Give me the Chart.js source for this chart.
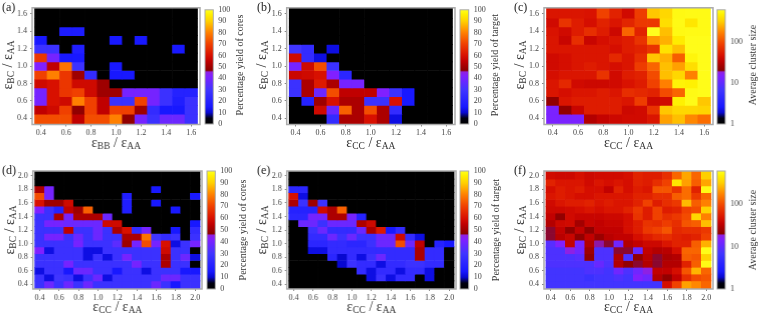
<!doctype html>
<html>
<head>
<meta charset="utf-8">
<style>
html,body{margin:0;background:#fff;overflow:hidden}
canvas{position:absolute}
</style>
<script src="https://cdn.jsdelivr.net/npm/chart.js@4"></script>
</head>
<body>
<script>
const smallGrid=[0.4,0.5,0.6,0.7,0.8,0.9,1.0,1.1,1.2,1.3,1.4,1.5,1.6]
const bigGrid=[0.4,0.5,0.6,0.7,0.8,0.9,1.0,1.1,1.2,1.3,1.4,1.5,1.6,1.7,1.8,1.9,2.0]
const smallTicks=[0.4,0.6,0.8,1.0,1.2,1.4,1.6]
const bigTicks=[0.4,0.6,0.8,1.0,1.2,1.4,1.6,1.8,2.0]
const yieldTicks=[0,10,20,30,40,50,60,70,80,90,100]
const sizeTicks=[1,10,100]

// every table runs top row first, like the picture
const coresA=[
[0,0,0,0,0,0,0,0,0,0,0,0,0],
[0,0,0,0,0,0,0,0,0,0,0,0,0],
[0,0,17,17,0,0,0,0,0,0,0,0,0],
[15,0,0,0,0,0,15,0,15,0,0,0,0],
[28,28,0,18,0,0,0,0,0,0,0,15,0],
[68,40,15,15,0,0,0,0,0,0,0,0,0],
[42,55,78,28,0,0,15,0,0,0,0,0,0],
[70,80,68,50,25,0,15,15,0,0,0,0,0],
[58,60,68,58,58,50,0,0,0,0,0,0,0],
[40,60,68,70,58,50,50,40,40,40,28,20,20],
[40,60,58,80,70,55,28,28,70,40,28,18,28],
[55,58,70,48,70,55,70,70,50,25,15,15,28],
[72,72,72,55,72,72,80,48,40,28,38,38,28]]
const targetB=[
[0,0,0,0,0,0,0,0,0,0,0,0,0],
[0,0,0,0,0,0,0,0,0,0,0,0,0],
[0,0,0,0,0,0,0,0,0,0,0,0,0],
[0,0,0,0,0,0,0,0,0,0,0,0,0],
[30,25,0,12,0,0,0,0,0,0,0,0,0],
[58,25,12,0,0,0,0,0,0,0,0,0,0],
[40,58,72,28,0,0,0,0,0,0,0,0,0],
[57,58,60,42,22,0,0,0,0,0,0,0,0],
[28,52,62,52,40,40,0,0,0,0,0,0,0],
[28,52,38,72,55,55,55,42,28,15,0,0,0],
[0,20,50,60,52,52,28,28,60,15,0,0,0],
[0,0,58,38,75,52,72,52,25,0,0,0,0],
[0,0,0,25,52,52,60,52,12,0,0,0,0]]
const sizeC=[
[50,50,50,48,90,60,42,85,300,350,550,560,560],
[42,75,55,45,60,50,62,80,80,380,560,420,560],
[48,42,55,70,55,40,130,60,600,280,550,560,560],
[50,38,70,38,45,50,55,75,200,250,450,580,580],
[50,50,50,50,50,45,55,60,75,400,280,580,580],
[42,45,50,50,50,65,50,70,300,250,120,520,580],
[42,45,50,55,50,45,50,85,130,280,220,380,580],
[45,50,50,50,75,42,55,60,100,280,350,170,580],
[50,65,42,40,40,42,48,55,90,170,500,480,580],
[50,45,50,50,55,50,70,65,60,100,130,560,580],
[22,50,55,55,55,55,50,85,40,42,480,570,300],
[14,22,38,55,55,55,40,42,75,300,350,350,340],
[14,14,14,30,36,40,42,42,50,220,280,180,140]]
const coresD=[
[0,0,0,0,0,0,0,0,0,0,0,0,0,0,0,0,0],
[0,0,0,0,0,0,0,0,0,0,0,0,0,0,0,0,0],
[52,40,0,0,0,0,0,0,0,0,0,0,15,0,0,0,0],
[72,40,0,0,0,0,0,0,0,18,0,0,0,0,0,0,15],
[60,50,50,58,0,0,0,0,0,18,0,0,15,0,0,0,0],
[42,28,20,55,50,75,0,0,0,18,0,0,0,0,15,0,0],
[28,28,52,40,52,52,52,38,0,0,0,0,0,0,0,0,0],
[28,40,40,38,38,38,38,58,58,0,0,0,0,0,0,0,15],
[28,28,28,55,28,28,38,28,52,60,25,40,0,0,15,0,25],
[28,40,40,28,38,28,38,28,28,52,52,78,30,25,28,0,28],
[28,28,28,28,40,28,28,28,35,50,40,72,40,60,12,28,40],
[42,12,28,28,28,12,12,28,28,28,28,28,28,58,28,28,0],
[28,28,28,28,28,12,28,12,28,40,28,28,28,52,28,38,12],
[28,28,28,40,28,28,28,28,28,28,40,28,28,52,28,28,0],
[12,28,28,15,38,38,28,28,15,28,28,12,28,28,28,15,15],
[28,12,30,28,12,28,38,12,28,28,28,28,28,38,38,28,28],
[28,38,28,38,28,38,28,28,28,28,28,28,38,28,15,28,28]]
const targetE=[
[0,0,0,0,0,0,0,0,0,0,0,0,0,0,0,0,0],
[0,0,0,0,0,0,0,0,0,0,0,0,0,0,0,0,0],
[22,22,0,0,0,0,0,0,0,0,0,0,0,0,0,0,0],
[60,12,0,0,0,0,0,0,0,0,0,0,0,0,0,0,0],
[52,28,50,28,0,0,0,0,0,0,0,0,0,0,0,0,0],
[20,20,20,58,52,75,0,0,0,0,0,0,0,0,0,0,0],
[22,22,40,40,52,52,40,20,0,0,0,0,0,0,0,0,0],
[0,38,38,28,38,38,38,52,58,0,0,0,0,0,0,0,0],
[0,0,28,38,25,25,25,38,52,62,15,25,0,0,0,0,0],
[0,0,25,25,38,28,38,28,28,38,38,58,25,12,0,0,0],
[0,0,22,22,25,25,22,22,28,38,38,72,38,55,0,20,15],
[0,0,12,12,25,25,25,25,25,25,25,25,25,52,25,25,0],
[0,0,0,0,22,10,25,12,28,38,25,25,25,52,25,25,0],
[0,0,0,0,0,10,28,25,25,12,25,25,28,28,25,25,0],
[0,0,0,0,0,0,0,25,12,25,25,12,25,25,12,0,0],
[0,0,0,0,0,0,0,0,12,28,12,25,25,0,12,0,0],
[0,0,0,0,0,0,0,0,0,0,0,0,0,0,0,0,0]]
const sizeF=[
[42,40,40,45,40,42,42,42,45,60,55,55,70,130,230,130,320],
[60,50,50,50,42,50,45,50,45,60,55,70,90,420,220,120,230],
[45,55,50,55,45,45,35,60,45,55,50,110,110,75,140,60,560],
[50,55,50,45,45,50,50,50,50,60,60,70,70,120,140,80,130],
[42,50,55,55,60,50,55,50,50,60,90,55,70,80,270,120,170],
[40,40,42,45,50,45,50,50,60,80,55,90,55,60,90,100,330],
[35,22,42,38,38,38,40,40,45,75,55,90,70,80,100,350,170],
[30,40,42,26,38,35,38,38,45,55,75,70,85,70,110,120,280],
[20,35,22,35,22,35,35,35,45,55,80,90,110,65,70,70,80],
[20,32,38,22,35,24,32,35,35,45,55,65,70,60,55,60,90],
[9,15,36,13,30,19,20,12,30,35,40,40,50,60,60,120,250],
[8,8,18,12,25,8,8,20,20,11,35,30,32,45,130,130,580],
[8,8,8,9,22,8,8,30,8,22,32,20,28,30,120,110,330],
[8,8,8,8,8,11,8,30,22,20,30,20,30,30,60,120,560],
[7,7,7,7,8,8,7,12,8,12,18,35,35,45,110,260,130],
[7,7,7,7,6,7,7,8,7,15,12,30,22,35,70,100,110],
[7,7,7,7,7,7,7,7,7,7,7,7,45,90,220,180,130]]

const paletteStops=[
[0,"#000000"],[0.05,"#000010"],[0.1,"#0808d0"],[0.15,"#1818ff"],[0.3,"#4035ff"],
[0.42,"#8020ff"],[0.455,"#9020e0"],[0.47,"#8a0000"],[0.55,"#c00000"],[0.6,"#d81000"],
[0.7,"#f04000"],[0.8,"#ff8000"],[0.9,"#ffd000"],[0.96,"#fff000"],[1,"#ffff20"]]
const sizeTop=612

Chart.defaults.animation=false
Chart.defaults.font.family="Liberation Serif"
Chart.defaults.color="#444"
Chart.defaults.plugins.legend.display=false
Chart.defaults.plugins.tooltip.enabled=false

function hexRgb(h){
    return [1,3,5].map(i=>parseInt(h.substr(i,2),16))
}
function paletteColor(f){
    f=Math.max(0,Math.min(1,f))
    for(let i=1;i<paletteStops.length;i++){
        if(f<=paletteStops[i][0]){
            const a=paletteStops[i-1],b=paletteStops[i]
            const t=(f-a[0])/(b[0]-a[0])
            const ca=hexRgb(a[1]),cb=hexRgb(b[1])
            return "rgb("+ca.map((c,k)=>Math.round(c+(cb[k]-c)*t)).join(",")+")"
        }
    }
    return paletteStops[paletteStops.length-1][1]
}
function cellColor(v,isSize){
    if(isSize) return paletteColor(Math.log10(v)/Math.log10(sizeTop))
    return paletteColor(v/100)
}

function addCanvas(left,top,w,h){
    const c=document.createElement("canvas")
    c.width=w
    c.height=h
    c.style.left=left+"px"
    c.style.top=top+"px"
    c.style.width=w+"px"
    c.style.height=h+"px"
    document.body.appendChild(c)
    return c
}

// epsilon ratio with real subscripts, centred on the current origin
function drawRatio(ctx,subA,subB){
    const big="14px 'Liberation Serif'",small="9.5px 'Liberation Serif'"
    const parts=[["\u03b5",big,0],[subA,small,3],[" / \u03b5",big,0],[subB,small,3]]
    let w=0
    parts.forEach(p=>{ctx.font=p[1];w+=ctx.measureText(p[0]).width})
    let x=-w/2
    ctx.fillStyle="#333"
    ctx.textAlign="left"
    ctx.textBaseline="middle"
    parts.forEach(p=>{
        ctx.font=p[1]
        ctx.fillText(p[0],x,p[2])
        x+=ctx.measureText(p[0]).width
    })
}

function heatChart(p){
    const canvas=addCanvas(p.canvasX,p.canvasY,p.plot[1]+3-p.canvasX,157)
    const grid=p.grid
    const yMin=0.33,yMax=grid[grid.length-1]+0.07
    const rows=p.values.map((row,r)=>{
        const yc=grid[grid.length-1-r]
        const lo=r==p.values.length-1?yMin:yc-0.05
        const hi=r==0?yMax:yc+0.05
        return {
            data:row.map((v,i)=>({x:grid[i],y:[lo,hi]})),
            backgroundColor:row.map(v=>v==0?"#000":cellColor(v,p.isSize)),
            grouped:false,
            barPercentage:1,
            categoryPercentage:1,
            borderWidth:0,
        }
    })
    new Chart(canvas,{
        type:"bar",
        data:{datasets:rows},
        options:{
            responsive:false,
            layout:{padding:{left:0,right:3,top:p.plot[2]-p.canvasY,bottom:0}},
            scales:{
                x:{
                    type:"linear",
                    offset:false,
                    min:yMin,
                    max:yMax,
                    grid:{offset:false,drawOnChartArea:false,tickLength:2,tickColor:"#888"},
                    border:{display:false},
                    afterBuildTicks(s){s.ticks=p.ticks.map(v=>({value:v}))},
                    afterFit(s){s.height=157-(p.plot[3]-p.canvasY)},
                    ticks:{
                        autoSkip:false,maxRotation:0,padding:2,font:{size:8},
                        callback:v=>v.toFixed(1),
                    },
                },
                y:{
                    min:yMin,
                    max:yMax,
                    grid:{drawOnChartArea:false,tickLength:2,tickColor:"#888"},
                    border:{display:false},
                    afterBuildTicks(s){s.ticks=p.ticks.map(v=>({value:v}))},
                    afterFit(s){s.width=p.plot[0]-p.canvasX},
                    ticks:{
                        autoSkip:false,padding:3,font:{size:8},
                        callback:v=>v.toFixed(1),
                    },
                },
            },
        },
        plugins:[{
            id:"panelText",
            afterDraw(chart){
                const ctx=chart.ctx,a=chart.chartArea
                ctx.save()
                ctx.strokeStyle="#aaa"
                ctx.lineWidth=1.5
                ctx.strokeRect(a.left,a.top,a.right-a.left,a.bottom-a.top)
                ctx.fillStyle="#222"
                ctx.font="12px 'Liberation Serif'"
                ctx.textAlign="left"
                ctx.textBaseline="middle"
                ctx.fillText(p.tag,p.tagX-p.canvasX,p.tagY-p.canvasY)
                ctx.save()
                ctx.translate((a.left+a.right)/2,p.xTitleY-p.canvasY)
                drawRatio(ctx,p.xSub,"AA")
                ctx.restore()
                ctx.translate(p.yTitleX-p.canvasX,(p.plot[2]+p.plot[3])/2-p.canvasY)
                ctx.rotate(-Math.PI/2)
                drawRatio(ctx,"BC","AA")
                ctx.restore()
            },
        }],
    })
}

function barChart(p){
    const left=p.bar[0]-2,width=p.titleX+9-left
    const canvas=addCanvas(left,p.canvasY,width,157)
    const rightGap=width-(p.bar[1]-left)
    new Chart(canvas,{
        type:"bar",
        data:{
            labels:[""],
            datasets:[{
                data:[p.isSize?[1,sizeTop]:[0,100]],
                barPercentage:1,
                categoryPercentage:1,
                borderWidth:0,
                backgroundColor(c){
                    const a=c.chart.chartArea
                    if(!a) return "#000"
                    const g=c.chart.ctx.createLinearGradient(0,a.bottom,0,a.top)
                    paletteStops.forEach(s=>g.addColorStop(s[0],s[1]))
                    return g
                },
            }],
        },
        options:{
            responsive:false,
            layout:{padding:{left:2,right:0,top:p.barY[0]-p.canvasY,bottom:157-(p.barY[1]-p.canvasY)}},
            scales:{
                x:{display:false},
                y:{
                    type:p.isSize?"logarithmic":"linear",
                    position:"right",
                    min:p.isSize?1:0,
                    max:p.isSize?sizeTop:100,
                    grid:{display:false,drawTicks:false},
                    border:{display:false},
                    afterBuildTicks(s){s.ticks=(p.isSize?sizeTicks:yieldTicks).map(v=>({value:v}))},
                    afterFit(s){s.width=rightGap},
                    ticks:{
                        autoSkip:false,padding:5,font:{size:8},
                        callback:v=>String(v),
                    },
                },
            },
        },
        plugins:[{
            id:"barText",
            afterDraw(chart){
                const ctx=chart.ctx,a=chart.chartArea
                ctx.save()
                ctx.strokeStyle="#aaa"
                ctx.lineWidth=1
                ctx.strokeRect(a.left,a.top,a.right-a.left,a.bottom-a.top)
                ctx.translate(p.titleX-left,(p.barY[0]+p.barY[1])/2-p.canvasY)
                ctx.rotate(-Math.PI/2)
                ctx.fillStyle="#333"
                ctx.font="10px 'Liberation Serif'"
                ctx.textAlign="center"
                ctx.textBaseline="middle"
                ctx.fillText(p.title,0,0)
                ctx.restore()
            },
        }],
    })
}

const panels=[
    {tag:"(a)",values:coresA,grid:smallGrid,ticks:smallTicks,xSub:"BB",isSize:false,title:"Percentage yield of cores",
     canvasX:0,canvasY:0,plot:[32,199.7,5.5,124.5],bar:[204.7,213.3],barY:[6,124],tagX:2,tagY:8,xTitleY:143,yTitleX:8,titleX:240},
    {tag:"(b)",values:targetB,grid:smallGrid,ticks:smallTicks,xSub:"CC",isSize:false,title:"Percentage yield of target",
     canvasX:252,canvasY:0,plot:[286.7,455,5.5,124.5],bar:[460,468.7],barY:[6,124],tagX:257,tagY:8,xTitleY:143,yTitleX:262,titleX:495},
    {tag:"(c)",values:sizeC,grid:smallGrid,ticks:smallTicks,xSub:"CC",isSize:true,title:"Average cluster size",
     canvasX:510,canvasY:0,plot:[544,713.3,5.5,124.5],bar:[717.3,726],barY:[6,124],tagX:514,tagY:8,xTitleY:143,yTitleX:520.7,titleX:753},
    {tag:"(d)",values:coresD,grid:bigGrid,ticks:bigTicks,xSub:"CC",isSize:false,title:"Percentage yield of cores",
     canvasX:0,canvasY:157,plot:[32.7,201.7,171,289],bar:[206.7,215],barY:[171,289],tagX:2,tagY:171,xTitleY:307,yTitleX:10,titleX:242.7},
    {tag:"(e)",values:targetE,grid:bigGrid,ticks:bigTicks,xSub:"CC",isSize:false,title:"Percentage yield of target",
     canvasX:252,canvasY:157,plot:[286.7,455.7,171,289],bar:[460,468.7],barY:[171,289],tagX:257,tagY:171,xTitleY:307,yTitleX:262.7,titleX:496},
    {tag:"(f)",values:sizeF,grid:bigGrid,ticks:bigTicks,xSub:"CC",isSize:true,title:"Average cluster size",
     canvasX:510,canvasY:157,plot:[544,713.3,171,289],bar:[717.3,726],barY:[171,289],tagX:514,tagY:171,xTitleY:307,yTitleX:520.7,titleX:753},
]

panels.forEach(p=>{
    heatChart(p)
    barChart(p)
})
</script>
</body>
</html>
